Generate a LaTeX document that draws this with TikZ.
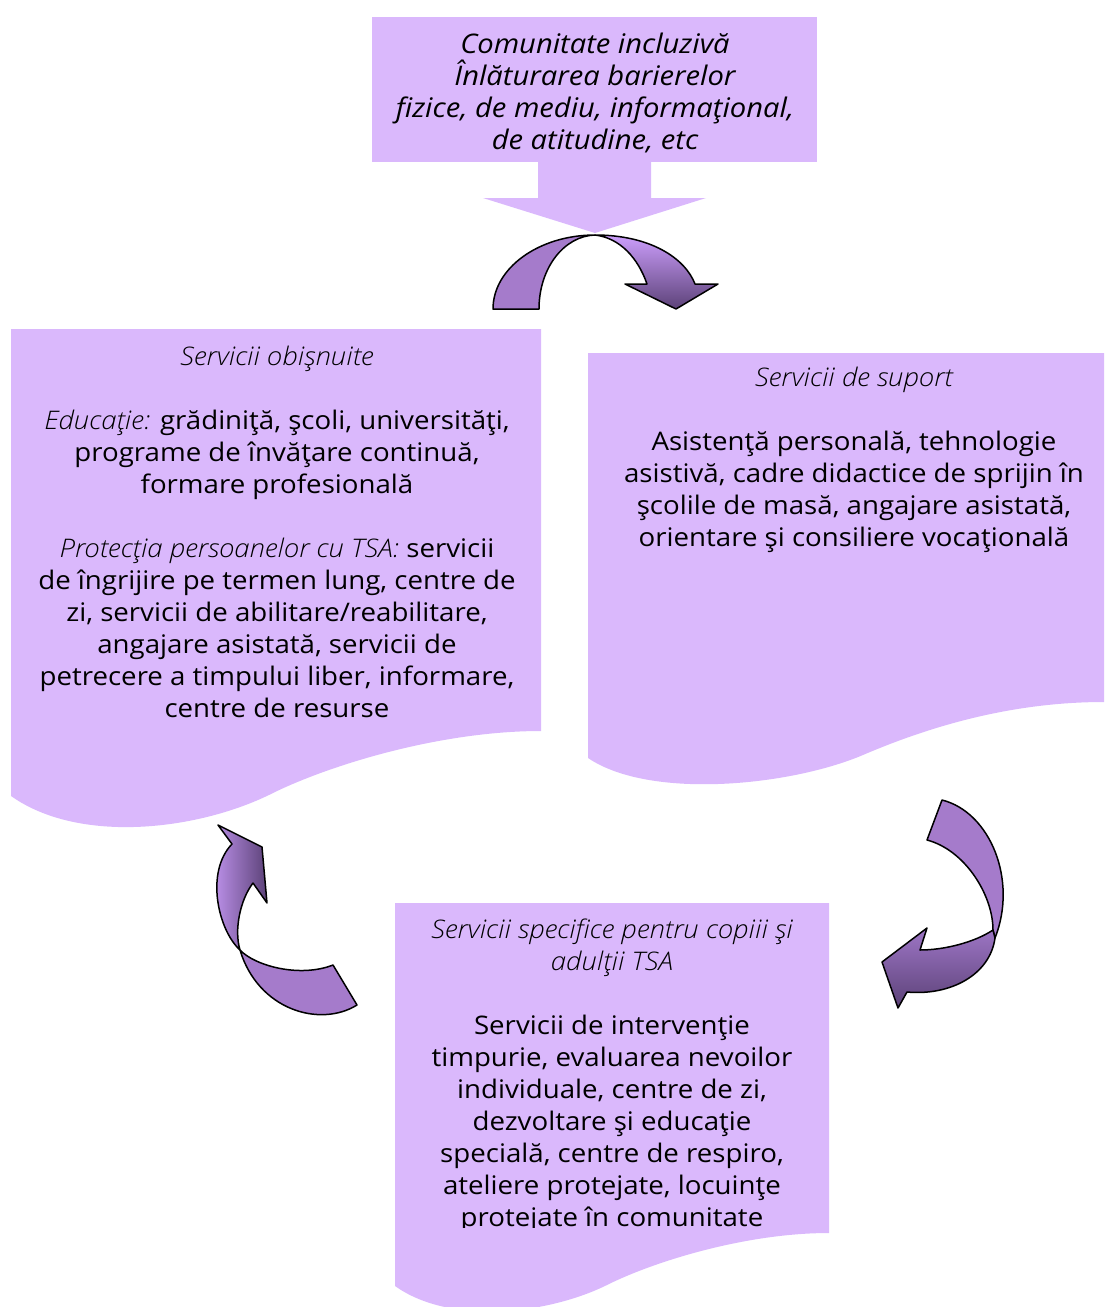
\documentclass[tikz,border=0pt]{standalone}
\usepackage{fontspec}
\setmainfont{Open Sans}[FakeStretch=1.08]
\IfFontExistsTF{Open Sans Light}{\newfontfamily\lightfont{Open Sans Light}[FakeStretch=1.08]}{\newfontfamily\lightfont{Open Sans}[FakeStretch=1.08]}
\newcommand{\thin}[1]{{\lightfont\itshape #1}}
\definecolor{lav}{RGB}{218,184,252}
\definecolor{plum}{RGB}{165,123,203}
\definecolor{plumlight}{RGB}{204,158,252}
\definecolor{plummid}{RGB}{158,118,198}
\definecolor{plumdark}{RGB}{92,66,120}
\tikzset{doc/.style={fill=lav,draw=none},
 band/.style={draw=black,line width=0.75pt,line join=round},
 flatband/.style={band,fill=plum},
 label/.style={align=center,font=\fontsize{12.8}{16}\selectfont},
 headtext/.style={align=center,font=\fontsize{13.5}{16}\selectfont\itshape},
 }

\begin{document}
\begin{tikzpicture}[x=0.5pt,y=-0.5pt]
        \useasboundingbox (0,0) rectangle (1104,1307);
        \fill[doc] (372,17) rectangle (817,162);
        \fill[doc] (538,161) -- (651,161) -- (651,198) -- (706,198) -- (595,233) -- (483,198) -- (538,198) -- cycle;
        \fill[doc] (11,329) -- (541,329) -- (541,731) .. controls (440,731) and (330,765) .. (273,793)
            .. controls (200,830) and (80,845) .. (11,796) -- cycle;
        \fill[doc] (588,353) -- (1104,353) -- (1104,702) .. controls (1020,702) and (940,722) .. (863,755)
            .. controls (790,786) and (650,800) .. (588,758) -- cycle;
        \fill[doc] (395,903) -- (829,903) -- (829,1233) .. controls (746,1233) and (656,1261) .. (609,1284)
            .. controls (550,1314) and (451,1326) .. (395,1286) -- cycle;
        \draw[flatband] (493,309) .. controls (493,268) and (539,235) .. (595,235)
            .. controls (564,236) and (539,268) .. (539,309) -- cycle;
        \draw[band,top color=plumlight,bottom color=plumdark] (595,235) .. controls (650,235) and (685,258) .. (695,284)
            -- (718,284) -- (676,309) -- (625,284) -- (647,284) .. controls (638,258) and (620,238) .. (595,235) -- cycle;
        \draw[flatband] (240,950) .. controls (255,966) and (300,978) .. (333,965) -- (357,1005)
            .. controls (320,1028) and (258,1010) .. (240,950) -- cycle;
        \draw[band,left color=plumlight,right color=plumdark] (240,950) .. controls (218,930) and (205,872) .. (232,844)
            -- (218,825) -- (262,847) -- (267,903) -- (253,883) .. controls (240,900) and (234,930) .. (240,950) -- cycle;
        \draw[flatband] (942,800) .. controls (990,812) and (1018,880) .. (995,938)
            -- (993,930) .. controls (993,895) and (965,850) .. (927,840) -- cycle;
        \draw[band,top color=plummid,bottom color=plumdark] (993,930) .. controls (975,942) and (945,950) .. (920,950)
            -- (927,928) -- (882,962) -- (898,1008) -- (907,992) .. controls (950,996) and (990,975) .. (995,938) -- cycle;
        \node[headtext] (comunitate) at (595,93) {Comunitate incluzivă\\Înlăturarea barierelor\\fizice, de mediu, informaţional,\\de atitudine, etc};
        \node[label] (obisnuite) at (277,532) {\thin{Servicii obişnuite}\\[16pt]
            \thin{Educaţie:} grădiniţă, şcoli, universităţi,\\
            programe de învăţare continuă,\\
            formare profesională\\[16pt]
            \thin{Protecţia persoanelor cu TSA:} servicii\\
            de îngrijire pe termen lung, centre de\\
            zi, servicii de abilitare/reabilitare,\\
            angajare asistată, servicii de\\
            petrecere a timpului liber, informare,\\
            centre de resurse};
        \node[label] (suport) at (854,460) {\thin{Servicii de suport}\\[16pt]
            Asistenţă personală, tehnologie\\
            asistivă, cadre didactice de sprijin în\\
            şcolile de masă, angajare asistată,\\
            orientare şi consiliere vocaţională};
        \begin{scope}
        \clip (395,903) rectangle (829,1227);
        \node[label] (specifice) at (612,1076) {\thin{Servicii specifice pentru copiii şi}\\
            \thin{adulţii TSA}\\[16pt]
            Servicii de intervenţie\\
            timpurie, evaluarea nevoilor\\
            individuale, centre de zi,\\
            dezvoltare şi educaţie\\
            specială, centre de respiro,\\
            ateliere protejate, locuinţe\\
            protejate în comunitate};
        \end{scope}
    \end{tikzpicture}
\end{document}
